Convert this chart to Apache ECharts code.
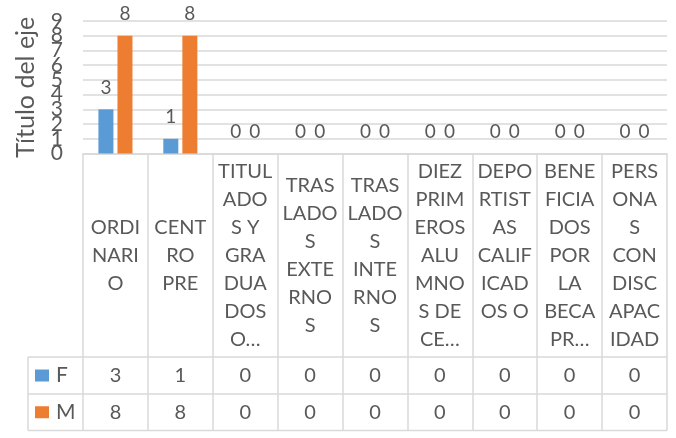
<!DOCTYPE html>
<html>
<head>
<meta charset="utf-8">
<script src="https://cdn.jsdelivr.net/npm/echarts@6/dist/echarts.min.js"></script>
<style>
  html, body { margin: 0; padding: 0; background: #fff; }
  #chart { width: 676px; height: 438px; }
</style>
</head>
<body>
<div id="chart"></div>
<script>
// categorias (como se ven partidas en la tabla)
let categories = [
  'ORDI\nNARI\nO',
  'CENT\nRO\nPRE',
  'TITUL\nADO\nS Y\nGRA\nDUA\nDOS\nO…',
  'TRAS\nLADO\nS\nEXTE\nRNO\nS',
  'TRAS\nLADO\nS\nINTE\nRNO\nS',
  'DIEZ\nPRIM\nEROS\nALU\nMNO\nS DE\nCE…',
  'DEPO\nRTIST\nAS\nCALIF\nICAD\nOS O\n ',
  'BENE\nFICIA\nDOS\nPOR\nLA\nBECA\nPR…',
  'PERS\nONA\nS\nCON\nDISC\nAPAC\nIDAD'
];

// series
let seriesNames = ['F', 'M'];
let fValues = [3, 1, 0, 0, 0, 0, 0, 0, 0];
let mValues = [8, 8, 0, 0, 0, 0, 0, 0, 0];

// eje y
let yMin = 0;
let yMax = 9;
let yStep = 1;

let colors = ['#5B9BD5', '#ED7D31'];
let textColor = '#595959';
let lineColor = '#D9D9D9';
let font = 'Lato, "Noto Sans", sans-serif';

//posiciones de la tabla
let tableLeft = 28;
let plotLeft = 83;
let plotRight = 667;
let axisY = 153.5;
let row1 = 357;
let row2 = 394;
let row3 = 430.5;

let chart = echarts.init(document.getElementById('chart'), null, { renderer: 'canvas' });

function hLine(y, x1, x2) {
  return {
    type: 'line',
    shape: { x1: x1, y1: y, x2: x2, y2: y },
    style: { stroke: lineColor, lineWidth: 1.5 },
    silent: true
  };
}

function legendAt(name, top) {
  return {
    data: [name],
    left: 35, top: top,
    padding: 0, itemWidth: 14, itemHeight: 12, itemGap: 6,
    icon: 'rect', selectedMode: false,
    textStyle: { color: textColor, fontSize: 21, lineHeight: 22, fontFamily: font, padding: [0, 0, 0, 2] }
  };
}

let yLabelStyle = { color: textColor, fontSize: 21, margin: 20, hideOverlap: false, padding: [0, 0, 8, 0] };

let option = {
  backgroundColor: '#ffffff',
  animation: false,
  textStyle: { fontFamily: font },
  grid: {
    left: plotLeft,
    right: 676 - plotRight,
    top: 21,
    bottom: 438 - axisY,
    containLabel: false,
    outerBoundsMode: 'none'
  },
  legend: [
    legendAt(seriesNames[0], (row1 + row2) / 2 - 11),
    legendAt(seriesNames[1], (row2 + row3) / 2 - 11)
  ],
  xAxis: [
    {
      type: 'category',
      data: categories,
      boundaryGap: true,
      axisLine: { show: true, lineStyle: { color: lineColor, width: 1.5 } },
      axisTick: { show: true, length: row3 - axisY, lineStyle: { color: lineColor, width: 1.5 } },
      axisLabel: {
        interval: 0,
        color: textColor,
        fontSize: 20,
        lineHeight: 28,
        align: 'center',
        verticalAlign: 'middle',
        margin: (row1 - axisY) / 2
      }
    },
    {
      //fila F
      type: 'category',
      data: categories,
      position: 'bottom',
      axisLine: { show: false },
      axisTick: { show: false },
      axisLabel: {
        interval: 0, color: textColor, fontSize: 20, verticalAlign: 'middle',
        margin: (row1 + row2) / 2 - axisY,
        formatter: (v, i) => String(fValues[i])
      }
    },
    {
      //fila M
      type: 'category',
      data: categories,
      position: 'bottom',
      axisLine: { show: false },
      axisTick: { show: false },
      axisLabel: {
        interval: 0, color: textColor, fontSize: 20, verticalAlign: 'middle',
        margin: (row2 + row3) / 2 - axisY,
        formatter: (v, i) => String(mValues[i])
      }
    }
  ],
  yAxis: [
    {
      type: 'value',
      min: yMin,
      max: yMax,
      interval: yStep,
      name: 'Título del eje',
      nameLocation: 'middle',
      nameGap: 45,
      nameMoveOverlap: false,
      nameTextStyle: { color: textColor, fontSize: 25, fontFamily: font },
      axisLine: { show: false },
      axisTick: { show: false },
      axisLabel: Object.assign({ showMinLabel: false, showMaxLabel: false }, yLabelStyle),
      splitLine: { lineStyle: { color: lineColor, width: 1.5 } }
    },
    {
      //solo las etiquetas de los extremos (0 y 9)
      type: 'value',
      position: 'left',
      min: yMin,
      max: yMax,
      interval: yMax - yMin,
      axisLine: { show: false },
      axisTick: { show: false },
      axisLabel: Object.assign({ showMinLabel: true, showMaxLabel: true }, yLabelStyle),
      splitLine: { show: false }
    }
  ],
  series: [
    {
      name: seriesNames[0],
      type: 'bar',
      data: fValues,
      barWidth: 15,
      barGap: '27%',
      itemStyle: { color: colors[0] },
      label: { show: true, position: 'top', distance: 12, color: textColor, fontSize: 19 }
    },
    {
      name: seriesNames[1],
      type: 'bar',
      data: mValues,
      barWidth: 15,
      itemStyle: { color: colors[1] },
      label: { show: true, position: 'top', distance: 12, color: textColor, fontSize: 19 }
    }
  ],
  graphic: [
    hLine(row1, tableLeft, plotRight),
    hLine(row2, tableLeft, plotRight),
    hLine(row3, tableLeft, plotRight),
    {
      type: 'line',
      shape: { x1: tableLeft, y1: row1, x2: tableLeft, y2: row3 },
      style: { stroke: lineColor, lineWidth: 1.5 },
      silent: true
    }
  ]
};

chart.setOption(option);
</script>
</body>
</html>
